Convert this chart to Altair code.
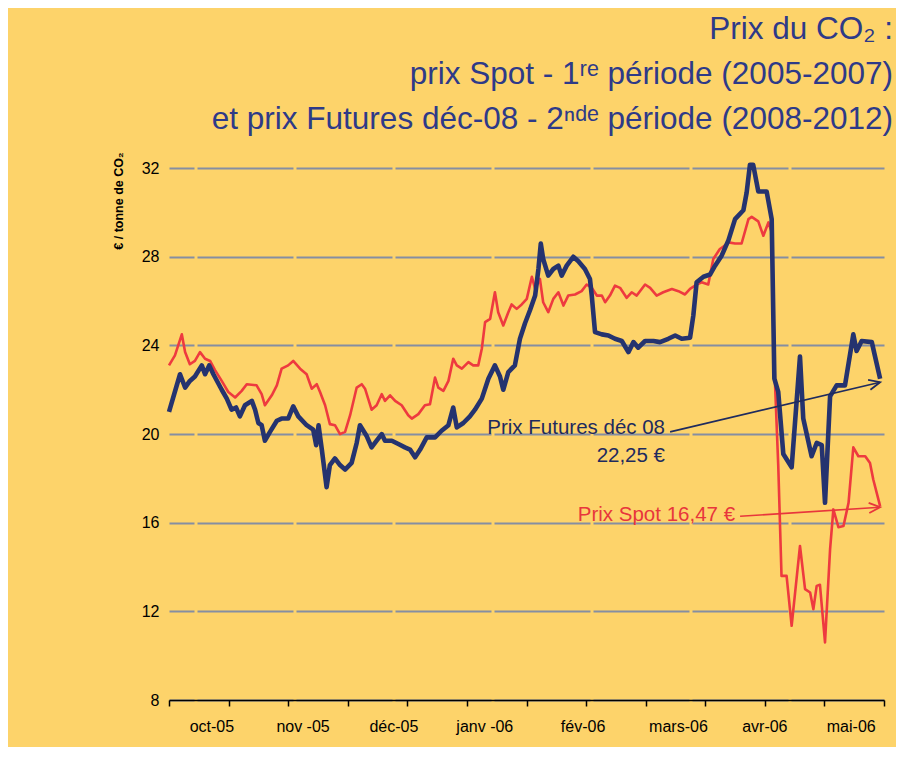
import altair as alt
import pandas as pd

# ---- data ----
fut_day = [0, 3.7, 5.4, 7.0, 8.7, 11.0, 12.1, 13.5, 14.9, 17.7, 19.4, 21.0, 22.5, 23.8, 25.5, 27.8, 28.9,
           30.0, 31.1, 32.2, 33.9, 36.2, 37.8, 40.0, 41.7, 43.4, 46.2, 48.4, 49.4, 50.2, 51.3, 52.9, 54.0,
           55.7, 57.4, 59.1, 61.3, 63.0, 64.1, 66.4, 68.0, 69.7, 71.4, 72.5, 74.8, 77.0, 79.2, 80.9, 82.6,
           84.3, 86.5, 89.3, 91.5, 93.8, 95.4, 96.6, 98.8, 101.0, 102.7, 105.0, 107.2, 109.4, 111.1, 112.2,
           113.9, 116.1, 117.8, 119.5, 121.2, 122.9, 124.0, 124.8, 125.6, 127.3, 129.0, 130.7, 131.8, 133.5,
           135.7, 137.4, 139.6, 141.3, 141.9, 143.0, 145.3, 147.5, 149.7, 152.0, 154.2, 155.9, 157.5, 159.8,
           162.6, 164.8, 167.6, 169.9, 172.1, 174.9, 176.0, 177.1, 179.4, 181.6, 183.3, 185.5, 187.8, 190.0,
           192.8, 193.9, 195.0, 196.1, 197.8, 200.6, 202.3, 203.2, 204.5, 206.2, 209.0, 211.8, 212.9, 215.7,
           217.4, 219.1, 220.2, 221.9, 224.1, 226.9, 229.7, 230.8, 232.5, 235.9, 238.7]
fut_price = [21.0, 22.7, 22.1, 22.4, 22.6, 23.1, 22.7, 23.1, 22.7, 22.0, 21.6, 21.1, 21.2, 20.8, 21.3, 21.5, 21.1,
             20.5, 20.4, 19.7, 20.1, 20.6, 20.7, 20.7, 21.25, 20.8, 20.4, 20.2, 19.5, 20.4, 19.3, 17.6, 18.6,
             18.9, 18.6, 18.4, 18.7, 19.6, 20.4, 19.9, 19.4, 19.7, 20.0, 19.7, 19.7, 19.55, 19.4, 19.3, 18.95,
             19.3, 19.85, 19.85, 20.15, 20.4, 21.2, 20.3, 20.5, 20.8, 21.1, 21.6, 22.5, 23.1, 22.6, 22.0,
             22.8, 23.1, 24.3, 25.0, 25.6, 26.25, 27.45, 28.6, 27.9, 27.15, 27.45, 27.6, 27.15, 27.6,
             28.0, 27.8, 27.45, 27.0, 26.25, 24.6, 24.5, 24.45, 24.3, 24.2, 23.7, 24.15, 23.9, 24.2,
             24.2, 24.15, 24.3, 24.45, 24.3, 24.35, 25.35, 26.85, 27.1, 27.2, 27.6, 28.05, 28.75, 29.7,
             30.1, 30.9, 32.15, 32.15, 30.95, 30.95, 29.7, 22.5, 21.9, 19.1, 18.5, 23.5, 20.7, 19.0,
             19.6, 19.5, 16.9, 21.7, 22.2, 22.2, 24.5, 23.75, 24.2, 24.15, 22.5]

spot_day = [0, 2.0, 4.3, 5.4, 7.0, 8.7, 10.4, 12.1, 13.8, 15.4, 17.7, 19.9, 22.2, 24.4, 26.1, 29.4, 31.1, 32.2,
            34.5, 36.2, 37.8, 40.0, 41.7, 44.0, 46.2, 47.9, 49.6, 50.7, 52.4, 54.0, 55.7, 57.4, 59.1, 60.8,
            63.0, 64.7, 65.8, 68.0, 69.7, 71.4, 72.5, 74.2, 75.9, 78.1, 80.3, 81.5, 83.7, 85.9, 87.6, 89.3,
            90.4, 92.1, 93.8, 95.4, 96.6, 98.3, 100.5, 102.1, 103.8, 105.0, 106.1, 107.8, 109.4, 110.5, 112.2,
            113.9, 115.0, 116.7, 118.4, 120.1, 121.8, 122.9, 124.5, 125.6, 127.3, 129.0, 130.7, 132.4, 134.0,
            136.3, 138.5, 140.2, 141.9, 143.6, 145.3, 146.4, 148.0, 149.7, 151.4, 153.6, 155.3, 157.0, 159.8,
            161.5, 163.7, 165.9, 168.8, 171.0, 173.2, 174.9, 177.1, 178.8, 181.0, 182.7, 184.9, 186.0, 187.8,
            190.0, 192.2, 194.5, 195.6, 197.8, 199.5, 201.2, 202.3, 203.4, 204.5, 205.6, 207.3, 209.0, 211.8,
            213.5, 215.2, 216.3, 217.4, 218.5, 220.2, 221.9, 223.0, 224.7, 226.4, 228.1, 229.7, 231.4, 233.7,
            235.3, 236.4, 238.7]
spot_price = [23.1, 23.55, 24.5, 23.7, 23.15, 23.3, 23.7, 23.4, 23.3, 22.9, 22.4, 21.9, 21.65, 21.95, 22.25, 22.2,
              21.8, 21.3, 21.75, 22.2, 22.95, 23.1, 23.3, 22.95, 22.7, 22.05, 22.25, 21.9, 21.3, 20.45, 20.4,
              20.0, 20.1, 20.85, 22.1, 22.25, 22.05, 21.1, 21.3, 21.8, 21.5, 21.75, 21.5, 21.3, 20.85, 20.7,
              20.9, 21.3, 21.35, 22.55, 22.1, 21.95, 22.4, 23.4, 23.1, 22.95, 23.25, 23.1, 23.1, 23.85, 25.05,
              25.2, 26.4, 25.5, 24.9, 25.5, 25.85, 25.65, 25.85, 26.1, 27.1, 26.55, 27.0, 25.95, 25.5, 26.1,
              26.4, 25.8, 26.25, 26.3, 26.45, 26.75, 26.6, 26.25, 26.25, 25.95, 26.25, 26.7, 26.6, 26.15, 26.4,
              26.25, 26.75, 26.6, 26.25, 26.4, 26.55, 26.45, 26.3, 26.55, 26.75, 26.85, 26.75, 27.9, 28.35,
              28.45, 28.65, 28.6, 28.6, 29.7, 29.8, 29.6, 28.95, 29.55, 29.1, 22.35, 18.6, 13.6, 13.6, 11.35,
              14.95, 13.0, 12.85, 12.1, 13.15, 13.2, 10.6, 14.8, 16.6, 15.8, 15.85, 16.9, 19.4, 19.0, 19.0,
              18.7, 17.95, 16.75]

month_labels = ["oct-05", "nov -05", "déc-05", "janv -06", "fév-06", "mars-06", "avr-06", "mai-06"]
month_pos = [14.4, 45.0, 75.5, 106.0, 139.0, 171.0, 200.0, 229.0]

y_ticks = [8, 12, 16, 20, 24, 28, 32]
x_ticks = list(range(0, 241, 10))

note_text = ["Prix Futures déc 08", "22,25 €", "Prix Spot 16,47 €"]
note_day = [166.5, 166.5, 190.0]
note_price = [20.0, 18.74, 16.1]
note_group = ["fut", "fut", "spot"]

arrow_group = ["fut", "spot"]
arrow_day0 = [168.2, 191.7]
arrow_price0 = [20.1, 16.29]
arrow_day1 = [238.7, 238.7]
arrow_price1 = [22.34, 16.7]
arrow_angle = [346.6, 356.3]

NAVY = "#25336f"
RED = "#ee3a3f"
BG = "#FDD36A"
GRID = "#858ea2"
TITLE_BLUE = "#2e3a88"
FONT = "Liberation Sans"
colors = {"fut": "#1f2b5e", "spot": "#e8363c"}

W, H = 715, 554
XS = alt.Scale(domain=[0, 240], nice=False, zero=False)
YS = alt.Scale(domain=[8, 33], nice=False, zero=False)

fut_df = pd.DataFrame({"day": fut_day, "price": fut_price})
spot_df = pd.DataFrame({"day": spot_day, "price": spot_price})
month_df = pd.DataFrame({"day": month_pos, "label": month_labels})
note_df = pd.DataFrame({"day": note_day, "price": note_price, "text": note_text,
                        "c": [colors[g] for g in note_group]})
arrow_df = pd.DataFrame({"day": arrow_day0, "price": arrow_price0, "day2": arrow_day1,
                         "price2": arrow_price1, "ang": arrow_angle,
                         "c": [colors[g] for g in arrow_group]})

x_axis = alt.Axis(values=x_ticks, labels=False, ticks=True, tickColor="black", tickSize=6, tickWidth=1.5,
                  domain=True, domainColor="black", domainWidth=1.5, grid=False, title=None)
y_axis = alt.Axis(values=y_ticks, grid=True, gridColor=GRID, gridWidth=2, gridDash=[96, 3], gridDashOffset=71,
                  domain=False, ticks=False, labelFont=FONT, labelFontSize=16,
                  labelColor="black", labelPadding=10,
                  title="€ / tonne de CO₂", titleAngle=270, titleAlign="right", titleBaseline="middle",
                  titleX=-51, titleY=6, titleFont=FONT, titleFontSize=12.5,
                  titleFontWeight="bold", titleColor="black")

spot_line = alt.Chart(spot_df).mark_line(color=RED, strokeWidth=2.6, strokeJoin="round").encode(
    x=alt.X("day:Q", scale=XS, axis=x_axis),
    y=alt.Y("price:Q", scale=YS, axis=y_axis),
)
fut_line = alt.Chart(fut_df).mark_line(color=NAVY, strokeWidth=4.6, strokeJoin="round").encode(
    x=alt.X("day:Q", scale=XS),
    y=alt.Y("price:Q", scale=YS),
)
month_text = alt.Chart(month_df).mark_text(font=FONT, fontSize=16, color="black",
                                           baseline="middle").encode(
    x=alt.X("day:Q", scale=XS),
    y=alt.value(H + 27),
    text="label:N",
)
notes = alt.Chart(note_df).mark_text(font=FONT, fontSize=20.5, align="right",
                                     baseline="alphabetic").encode(
    x=alt.X("day:Q", scale=XS),
    y=alt.Y("price:Q", scale=YS),
    text="text:N",
    color=alt.Color("c:N", scale=None),
)
arrows = alt.Chart(arrow_df).mark_rule(strokeWidth=1.6).encode(
    x=alt.X("day:Q", scale=XS), y=alt.Y("price:Q", scale=YS),
    x2="day2:Q", y2="price2:Q",
    color=alt.Color("c:N", scale=None),
)
heads = alt.Chart(arrow_df).mark_point(shape="M -1 -0.45 L 0 0 L -1 0.45", filled=False, size=500,
                                       strokeWidth=1.8, opacity=1).encode(
    x=alt.X("day2:Q", scale=XS), y=alt.Y("price2:Q", scale=YS),
    angle=alt.Angle("ang:Q", scale=None),
    color=alt.Color("c:N", scale=None),
)

chart = alt.layer(spot_line, fut_line, month_text, notes, arrows, heads).properties(
    width=W, height=H,
    title=alt.TitleParams(
        text=["Prix du CO₂ :", "prix Spot - 1ʳᵉ période (2005-2007)",
              "et prix Futures déc-08 - 2ⁿᵈᵉ période (2008-2012)"],
        anchor="end", frame="group", font=FONT, fontSize=31.5, fontWeight="normal",
        color=TITLE_BLUE, lineHeight=45, offset=11, dx=9),
    autosize=alt.AutoSizeParams(type="none"),
    padding={"left": 161, "top": 138, "right": 12, "bottom": 47},
).configure(background=BG).configure_view(stroke=None)

chart.save("out.html", embed_options={"renderer": "svg", "actions": False})
